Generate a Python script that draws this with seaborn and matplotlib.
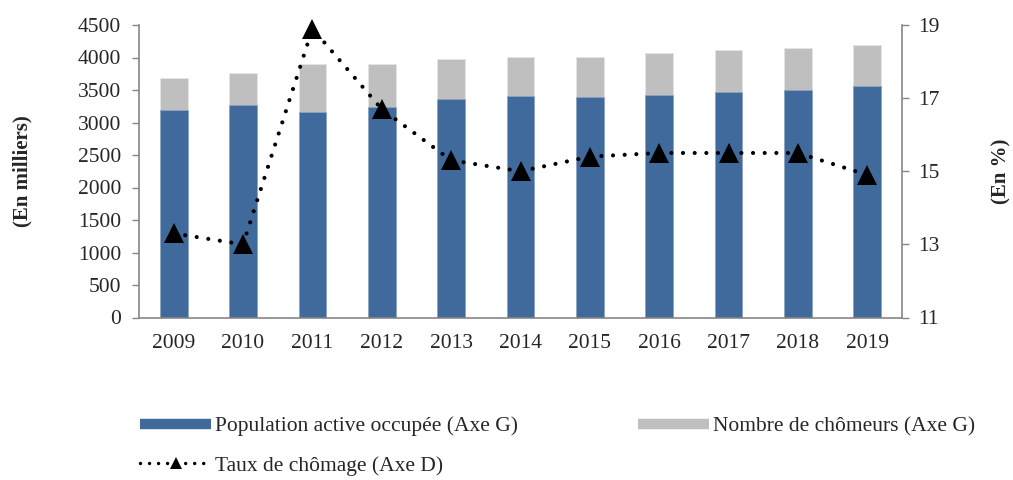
import numpy as np
import matplotlib
matplotlib.use("Agg")
import matplotlib.pyplot as plt
import seaborn as sns
from matplotlib.lines import Line2D

# Data
years = ["2009", "2010", "2011", "2012", "2013", "2014", "2015", "2016", "2017", "2018", "2019"]
pop_occupee = [3191, 3264, 3166, 3243, 3361, 3407, 3391, 3422, 3473, 3499, 3556]
total_active = [3679, 3760, 3899, 3899, 3971, 4006, 4011, 4063, 4114, 4145, 4186]
taux_chomage = [13.3, 13.0, 18.9, 16.7, 15.3, 15.0, 15.4, 15.5, 15.5, 15.5, 14.9]

BLUE = "#416A9C"
GREY = "#BFBFBF"
SPINE = "#868686"

sns.set_style("white")
plt.rcParams['font.family'] = ['Liberation Serif', 'DejaVu Serif']
plt.rcParams['font.size'] = 15

fig = plt.figure(figsize=(10.13, 4.8), dpi=100)
ax = fig.add_axes([139 / 1013, 1 - 317.5 / 480, 763 / 1013, 292.5 / 480])

# stacked bars: grey total behind, blue employed in front
sns.barplot(x=years, y=total_active, color=GREY, width=0.4, saturation=1,
            edgecolor="#e6e6e6", linewidth=0.5, ax=ax)
sns.barplot(x=years, y=pop_occupee, color=BLUE, width=0.4, saturation=1,
            edgecolor="#8fa6c4", linewidth=0.5, ax=ax)

ax.set_ylim(0, 4500)
ax.set_yticks(np.arange(0, 4501, 500))
ax.set_xlim(-0.5, len(years) - 0.5)
ax.set_xlabel("")
ax.set_ylabel("(En milliers)", fontweight="bold", fontsize=15)
ax.yaxis.set_label_coords(-0.14, 0.5)

# ticks between categories, labels centred
ax.set_xticks(np.arange(-0.5, len(years), 1), minor=True)
ax.tick_params(axis="x", which="major", length=0, pad=12, labelsize=15.5)
ax.tick_params(axis="x", which="minor", length=6, width=1, color=SPINE, direction="out")
ax.tick_params(axis="y", length=5, width=1, color=SPINE, direction="out", pad=8, labelsize=15.5, left=True)

for side in ["top", "right"]:
    ax.spines[side].set_visible(False)
for side in ["left", "bottom"]:
    ax.spines[side].set_color(SPINE)
    ax.spines[side].set_linewidth(1.2)

# unemployment rate on right axis
ax2 = ax.twinx()
sns.lineplot(x=np.arange(len(years)), y=taux_chomage, ax=ax2, color="black",
             linewidth=3.0, linestyle=(0, (0.001, 2.8)), dash_capstyle="round",
             marker="^", markersize=14, markeredgewidth=0, clip_on=False)
ax2.set_ylim(11, 19)
ax2.set_yticks(np.arange(11, 20, 2))
ax2.set_xlim(-0.5, len(years) - 0.5)
ax2.set_ylabel("(En %)", fontweight="bold", fontsize=15)
ax2.yaxis.set_label_coords(1.117, 0.5)
ax2.tick_params(axis="y", length=5, width=1, color=SPINE, direction="out", pad=7, labelsize=15.5, right=True)
for side in ["top", "left", "bottom"]:
    ax2.spines[side].set_visible(False)
ax2.spines["right"].set_color(SPINE)
ax2.spines["right"].set_linewidth(1.2)

# legend below the chart
handles = [
    Line2D([], [], color=BLUE, linewidth=7.5, solid_capstyle="butt"),
    Line2D([], [], color="black", linewidth=2.5, linestyle=(0, (0.001, 2.6)),
           dash_capstyle="round", marker="^", markersize=9, markeredgewidth=0),
    Line2D([], [], color=GREY, linewidth=7.5, solid_capstyle="butt"),
]
labels = ["Population active occupée (Axe G)", "Taux de chômage (Axe D)",
          "Nombre de chômeurs (Axe G)"]
fig.legend(handles, labels, loc="upper left", bbox_to_anchor=(140 / 1013, 1 - 416 / 480),
           ncol=2, frameon=False, fontsize=15.5, handlelength=3.3, handletextpad=0.2,
           columnspacing=5.55, labelspacing=0.9, borderpad=0, borderaxespad=0, numpoints=1)

fig.savefig("out.png", dpi=100)
